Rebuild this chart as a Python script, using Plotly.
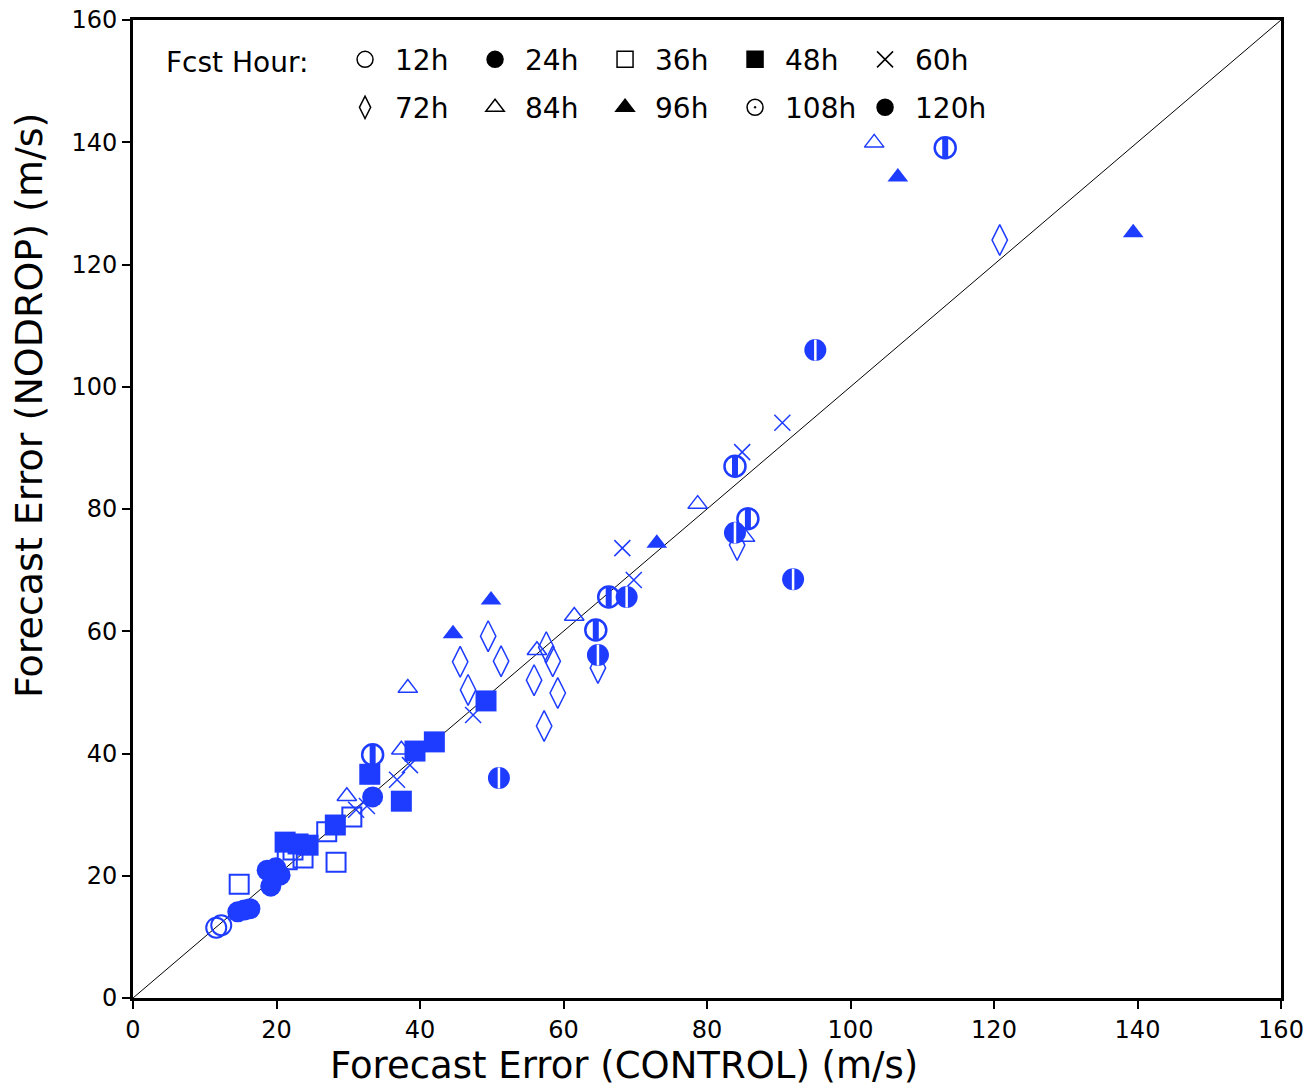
import plotly.graph_objects as go

BLUE = "#1E3CFF"
FONT = "DejaVu Sans"

hours = ["12h", "24h", "36h", "48h", "60h", "72h", "84h", "96h", "108h", "120h"]

x_12h = [11.6, 12.3]
y_12h = [11.5, 11.9]
x_24h = [14.6, 15.5, 16.3, 18.7, 19.9, 19.2, 20.5, 33.4]
y_24h = [14.1, 14.4, 14.6, 20.9, 21.3, 18.3, 20.1, 32.9]
x_36h = [14.8, 28.3, 21.5, 23.7, 22.3, 27.0, 30.5]
y_36h = [18.6, 22.2, 22.6, 22.9, 24.2, 27.2, 29.6]
x_48h = [21.2, 23.0, 24.4, 28.2, 33.0, 37.4, 39.3, 42.0, 49.2]
y_48h = [25.5, 25.2, 25.0, 28.3, 36.6, 32.2, 40.4, 41.9, 48.6]
x_60h = [31.1, 32.6, 36.8, 38.6, 47.4, 68.2, 69.8, 84.9, 90.5]
y_60h = [30.8, 31.4, 35.7, 38.1, 46.3, 73.6, 68.4, 89.3, 94.1]
x_72h = [45.6, 49.5, 46.7, 51.3, 55.9, 57.6, 58.5, 57.3, 59.2, 64.8, 84.2, 120.8]
y_72h = [55.0, 59.2, 50.4, 55.1, 52.0, 57.4, 55.1, 44.5, 49.9, 54.0, 74.1, 124.0]
x_84h = [29.8, 37.4, 38.3, 56.3, 61.5, 78.7, 85.3, 103.3]
y_84h = [33.0, 40.6, 50.7, 56.9, 62.5, 80.8, 75.4, 139.9]
x_96h = [44.6, 49.9, 73.0, 106.6, 139.4]
y_96h = [59.6, 65.1, 74.4, 134.3, 125.2]
x_108h = [33.4, 66.3, 64.5, 83.9, 85.7, 113.2]
y_108h = [39.8, 65.6, 60.2, 87.0, 78.4, 139.1]
x_120h = [51.0, 68.8, 64.8, 83.9, 92.0, 95.1]
y_120h = [36.0, 65.6, 56.1, 76.1, 68.5, 106.0]

diag = [0, 160]
tick_vals = [0, 20, 40, 60, 80, 100, 120, 140, 160]

fig = go.Figure()

# 1:1 line
fig.add_trace(go.Scatter(x=diag, y=diag, mode="lines",
                         line=dict(color="black", width=1), showlegend=False,
                         hoverinfo="skip"))

def pts(x, y, symbol, size, lw=1.5, color=BLUE, fill=BLUE):
    fig.add_trace(go.Scatter(
        x=x, y=y, mode="markers", showlegend=False,
        marker=dict(symbol=symbol, size=size, color=fill,
                    line=dict(color=color, width=lw))))

pts(x_12h, y_12h, "circle-open", 20, 2)
pts(x_24h, y_24h, "circle", 21, 0)
pts(x_36h, y_36h, "square-open", 19, 2)
pts(x_48h, y_48h, "square", 21, 0)
pts(x_60h, y_60h, "x-thin-open", 16, 1.5)
pts(x_72h, y_72h, "diamond-tall-open", 22, 1.5)
pts(x_84h, y_84h, "triangle-up-open", 17, 1.5)
pts(x_96h, y_96h, "triangle-up", 18, 0)
# 108h: open circle with a vertical bar
pts(x_108h, y_108h, "circle-open", 21, 2.5)
pts(x_108h, y_108h, "line-ns", 14, 6)
# 120h: filled circle with white vertical stripe
pts(x_120h, y_120h, "circle", 22, 0)
pts(x_120h, y_120h, "line-ns", 15, 2.5, color="white")

# legend-only entries (black symbols)
leg_symbols = ["circle-open", "circle", "square-open", "square", "x-thin-open",
               "diamond-tall-open", "triangle-up-open", "triangle-up",
               "circle-open-dot", "circle"]
for i, (h, s) in enumerate(zip(hours, leg_symbols)):
    fig.add_trace(go.Scatter(
        x=[None], y=[None], mode="markers", name=h,
        legend="legend" if i < 5 else "legend2",
        marker=dict(symbol=s, size=18, color="black",
                    line=dict(color="black", width=1.5))))

axis_common = dict(
    range=[0, 160], tickvals=tick_vals, ticks="outside", ticklen=8,
    tickwidth=2, tickcolor="black", showline=True, linewidth=3,
    linecolor="black", mirror=True, showgrid=False, zeroline=False,
    automargin=False,
    tickfont=dict(family=FONT, size=24, color="black"),
)

leg_common = dict(orientation="h", xanchor="left", yanchor="top",
                  bgcolor="rgba(0,0,0,0)", entrywidth=65, entrywidthmode="pixels",
                  itemwidth=50,
                  font=dict(family=FONT, size=28, color="black"))

fig.update_layout(
    width=1307, height=1090,
    margin=dict(l=133, r=26, t=20, b=92),
    paper_bgcolor="white", plot_bgcolor="white",
    xaxis=dict(**axis_common),
    yaxis=dict(**axis_common),
    legend=dict(**leg_common, x=0.176, y=0.985),
    legend2=dict(**leg_common, x=0.176, y=0.936),
    annotations=[
        dict(text="Fcst Hour:", xref="paper", yref="paper", x=0.027, y=0.957,
             xanchor="left", yanchor="middle", showarrow=False,
             font=dict(family=FONT, size=28, color="black")),
        dict(text="Forecast Error (CONTROL) (m/s)", xref="paper", yref="paper",
             x=0.428, y=-0.069, xanchor="center", yanchor="middle",
             showarrow=False, font=dict(family=FONT, size=37, color="black")),
        dict(text="Forecast Error (NODROP) (m/s)", xref="paper", yref="paper",
             x=-0.09, y=0.606, xanchor="center", yanchor="middle", textangle=-90,
             showarrow=False, font=dict(family=FONT, size=38, color="black")),
    ],
)

fig.write_html("out.html")
